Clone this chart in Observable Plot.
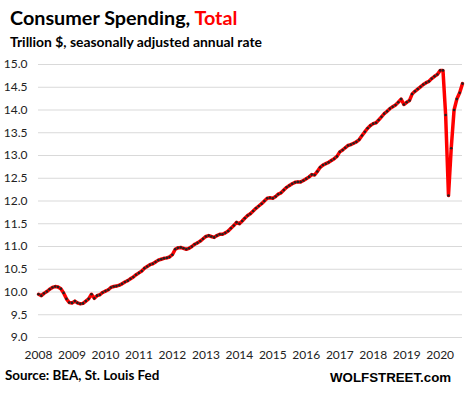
<!DOCTYPE html>
<html><head><meta charset="utf-8">
<script src="https://cdn.jsdelivr.net/npm/d3@7"></script>
<script src="https://cdn.jsdelivr.net/npm/@observablehq/plot@0.6"></script>
<style>
body{margin:0;background:#fff;width:468px;height:394px;position:relative;overflow:hidden;font-family:Lato,"Open Sans",sans-serif}
#title{position:absolute;left:10px;top:3px;font-size:19.8px;font-weight:bold;color:#000;white-space:nowrap;line-height:28px}
#title span{color:#ff0000}
#subtitle{position:absolute;left:10px;top:32px;font-size:13.9px;font-weight:bold;color:#000;white-space:nowrap;line-height:20px}
#chart{position:absolute;left:0;top:56px}
#source{position:absolute;left:5px;top:366px;font-size:13.4px;font-weight:bold;color:#000;white-space:nowrap;line-height:18px}
#brand{position:absolute;left:330px;top:369px;font-family:"Liberation Sans",Arial,sans-serif;font-size:13.3px;font-weight:bold;color:#000;white-space:nowrap;line-height:18px}
</style></head>
<body>
<div id="title">Consumer Spending, <span>Total</span></div>
<div id="subtitle">Trillion $, seasonally adjusted annual rate</div>
<div id="chart"></div>
<div id="source">Source: BEA, St. Louis Fed</div>
<div id="brand">WOLFSTREET.com</div>
<script>
// Monthly consumer spending, trillion $, SAAR (Jan..Dec)
const y2008 = [9.95, 9.92, 9.97, 10.01, 10.06, 10.10, 10.12, 10.11, 10.07, 9.98, 9.85, 9.77];
const y2009 = [9.76, 9.80, 9.76, 9.74, 9.75, 9.80, 9.85, 9.95, 9.86, 9.92, 9.94, 9.99];
const y2010 = [10.02, 10.05, 10.10, 10.12, 10.13, 10.15, 10.18, 10.22, 10.25, 10.29, 10.33, 10.38];
const y2011 = [10.42, 10.46, 10.52, 10.56, 10.60, 10.62, 10.66, 10.70, 10.72, 10.74, 10.75, 10.77];
const y2012 = [10.82, 10.94, 10.97, 10.98, 10.96, 10.94, 10.96, 11.00, 11.05, 11.08, 11.12, 11.17];
const y2013 = [11.22, 11.24, 11.22, 11.20, 11.24, 11.27, 11.27, 11.30, 11.34, 11.40, 11.46, 11.53];
const y2014 = [11.50, 11.56, 11.62, 11.68, 11.72, 11.78, 11.84, 11.89, 11.94, 12.00, 12.06, 12.07];
const y2015 = [12.06, 12.10, 12.15, 12.18, 12.24, 12.30, 12.34, 12.38, 12.41, 12.42, 12.42, 12.45];
const y2016 = [12.49, 12.53, 12.58, 12.57, 12.65, 12.74, 12.79, 12.82, 12.85, 12.89, 12.93, 12.98];
const y2017 = [13.08, 13.12, 13.17, 13.22, 13.24, 13.27, 13.30, 13.35, 13.44, 13.52, 13.60, 13.66];
const y2018 = [13.70, 13.72, 13.78, 13.85, 13.92, 13.97, 14.03, 14.07, 14.11, 14.17, 14.24, 14.12];
const y2019 = [14.17, 14.21, 14.35, 14.41, 14.46, 14.51, 14.56, 14.60, 14.63, 14.69, 14.74, 14.78];
const y2020 = [14.87, 14.87, 13.89, 12.12, 13.16, 14.00, 14.24, 14.38, 14.58];

const years = [2008, 2009, 2010, 2011, 2012, 2013, 2014, 2015, 2016, 2017, 2018, 2019, 2020];
const yearValues = [y2008, y2009, y2010, y2011, y2012, y2013, y2014, y2015, y2016, y2017, y2018, y2019, y2020];
const yTicks = [9.0, 9.5, 10.0, 10.5, 11.0, 11.5, 12.0, 12.5, 13.0, 13.5, 14.0, 14.5, 15.0];

const data = [];
years.forEach((yr, k) => yearValues[k].forEach((v, m) => data.push({date: new Date(Date.UTC(yr, m, 1)), value: v})));
const yearDates = years.map(yr => new Date(Date.UTC(yr, 0, 1)));

const chart = Plot.plot({
  width: 468,
  height: 309,
  marginTop: 8,
  marginLeft: 38,
  marginRight: 6,
  marginBottom: 28,
  style: {fontFamily: "Lato, 'Open Sans', sans-serif", fontSize: "12px", color: "#222", background: "#fff"},
  x: {type: "utc", domain: [data[0].date, data[data.length - 1].date]},
  y: {domain: [9, 15]},
  marks: [
    Plot.gridY(yTicks, {stroke: "#d9d9d9", strokeOpacity: 1, strokeWidth: 1}),
    Plot.axisY(yTicks, {tickSize: 0, tickPadding: 11, tickFormat: d => d.toFixed(1), label: null, fontSize: 12}),
    Plot.axisX(yearDates, {tickSize: 0, tickPadding: 13, tickFormat: d => String(d.getUTCFullYear()), label: null, fontSize: 12}),
    Plot.line(data, {x: "date", y: "value", stroke: "#ff0000", strokeWidth: 3.5}),
    Plot.dot(data, {x: "date", y: "value", r: 1.3, fill: "#222", stroke: "none"})
  ]
});
document.getElementById("chart").appendChild(chart);
</script>
</body></html>
